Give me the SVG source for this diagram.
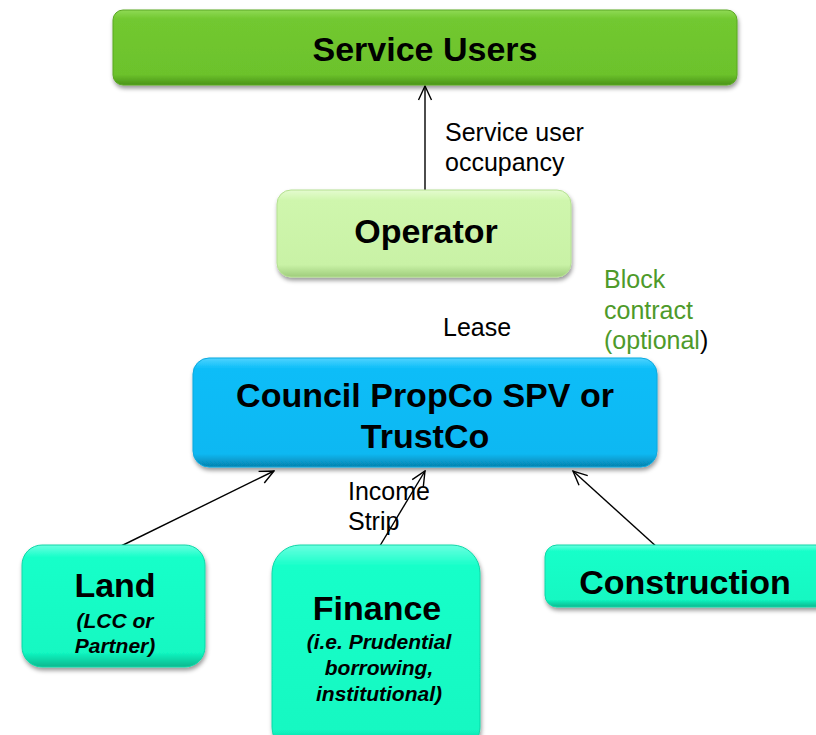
<svg xmlns="http://www.w3.org/2000/svg" width="816" height="735" viewBox="0 0 816 735">
  <style>
    .box { stroke-width: 1; filter: url(#shadow); }
    .title { font-family: "Liberation Sans", Arial, sans-serif; font-weight: bold; font-size: 34px; fill: #000; text-anchor: middle; }
    .sub { font-family: "Liberation Sans", Arial, sans-serif; font-weight: bold; font-style: italic; font-size: 21px; fill: #000; text-anchor: middle; }
    .lbl { font-family: "Liberation Sans", Arial, sans-serif; font-size: 25px; fill: #000; }
    .green { fill: #4e9a2a; }
    .link { stroke: #000; stroke-width: 1.4; fill: none; marker-end: url(#open); }
  </style>
  <defs>
    <filter id="shadow" x="-10%" y="-10%" width="120%" height="130%">
      <feDropShadow dx="1" dy="3" stdDeviation="2" flood-color="#000" flood-opacity="0.4"/>
    </filter>
    <marker id="open" viewBox="0 0 16 16" refX="15" refY="8" markerWidth="16" markerHeight="16" markerUnits="userSpaceOnUse" orient="auto">
      <path d="M1,1.5 L15,8 L1,14.5" fill="none" stroke="#000" stroke-width="1.4"/>
    </marker>
    <linearGradient id="gUsers" x1="0" y1="0" x2="0" y2="1">
      <stop offset="0" stop-color="#8fda55"/>
      <stop offset="0.12" stop-color="#72c830"/>
      <stop offset="0.86" stop-color="#6cc22c"/>
      <stop offset="1" stop-color="#4a9418"/>
    </linearGradient>
    <linearGradient id="gOp" x1="0" y1="0" x2="0" y2="1">
      <stop offset="0" stop-color="#e4fbcf"/>
      <stop offset="0.12" stop-color="#cff6ad"/>
      <stop offset="0.86" stop-color="#c9f2a6"/>
      <stop offset="1" stop-color="#9fcc7c"/>
    </linearGradient>
    <linearGradient id="gCouncil" x1="0" y1="0" x2="0" y2="1">
      <stop offset="0" stop-color="#4fd3ff"/>
      <stop offset="0.1" stop-color="#0abdf8"/>
      <stop offset="0.88" stop-color="#08b8f2"/>
      <stop offset="1" stop-color="#0682ad"/>
    </linearGradient>
    <linearGradient id="gAqua" x1="0" y1="0" x2="0" y2="1">
      <stop offset="0" stop-color="#6affe0"/>
      <stop offset="0.1" stop-color="#16ffc9"/>
      <stop offset="0.88" stop-color="#12f8c2"/>
      <stop offset="1" stop-color="#0bb88f"/>
    </linearGradient>
  </defs>

  <!-- connectors -->
  <g id="connectors">
    <line class="link" x1="425" y1="190" x2="425" y2="86"/>
    <line class="link" x1="117" y1="548" x2="274" y2="471"/>
    <line class="link" x1="378" y1="549" x2="425" y2="471"/>
    <line class="link" x1="658" y1="548" x2="573" y2="471"/>
  </g>

  <g id="service-users">
    <rect class="box" x="113" y="10" width="624" height="75" rx="10" fill="url(#gUsers)" stroke="#5aa822"/>
    <text class="title" x="425" y="61">Service Users</text>
  </g>

  <g id="operator">
    <rect class="box" x="277" y="190" width="294" height="87" rx="14" fill="url(#gOp)" stroke="#b5e092"/>
    <text class="title" x="426" y="243">Operator</text>
  </g>

  <g id="council">
    <rect class="box" x="193" y="358" width="464" height="109" rx="16" fill="url(#gCouncil)" stroke="#08a8de"/>
    <text class="title" x="425" y="407">Council PropCo SPV or</text>
    <text class="title" x="425" y="448">TrustCo</text>
  </g>

  <g id="land">
    <rect class="box" x="22" y="545" width="183" height="122" rx="20" fill="url(#gAqua)" stroke="#10d8a8"/>
    <text class="title" x="115" y="597">Land</text>
    <text class="sub" x="115" y="628">(LCC or</text>
    <text class="sub" x="115" y="653">Partner)</text>
  </g>

  <g id="finance">
    <rect class="box" x="272" y="545" width="208" height="210" rx="28" fill="url(#gAqua)" stroke="#10d8a8"/>
    <text class="title" x="377" y="620">Finance</text>
    <text class="sub" x="379" y="649">(i.e. Prudential</text>
    <text class="sub" x="379" y="675">borrowing,</text>
    <text class="sub" x="379" y="701">institutional)</text>
  </g>

  <g id="construction">
    <rect class="box" x="545" y="545" width="290" height="62" rx="12" fill="url(#gAqua)" stroke="#10d8a8"/>
    <text class="title" x="685" y="594">Construction</text>
  </g>

  <!-- connector labels -->
  <g id="labels">
    <text class="lbl" x="445" y="141">Service user</text>
    <text class="lbl" x="445" y="171">occupancy</text>
    <text class="lbl" x="443" y="336">Lease</text>
    <text class="lbl green" x="604" y="288">Block</text>
    <text class="lbl green" x="604" y="319">contract</text>
    <text class="lbl" x="604" y="349"><tspan class="green">(optional</tspan>)</text>
    <text class="lbl" x="348" y="500">Income</text>
    <text class="lbl" x="348" y="530">Strip</text>
  </g>
</svg>
